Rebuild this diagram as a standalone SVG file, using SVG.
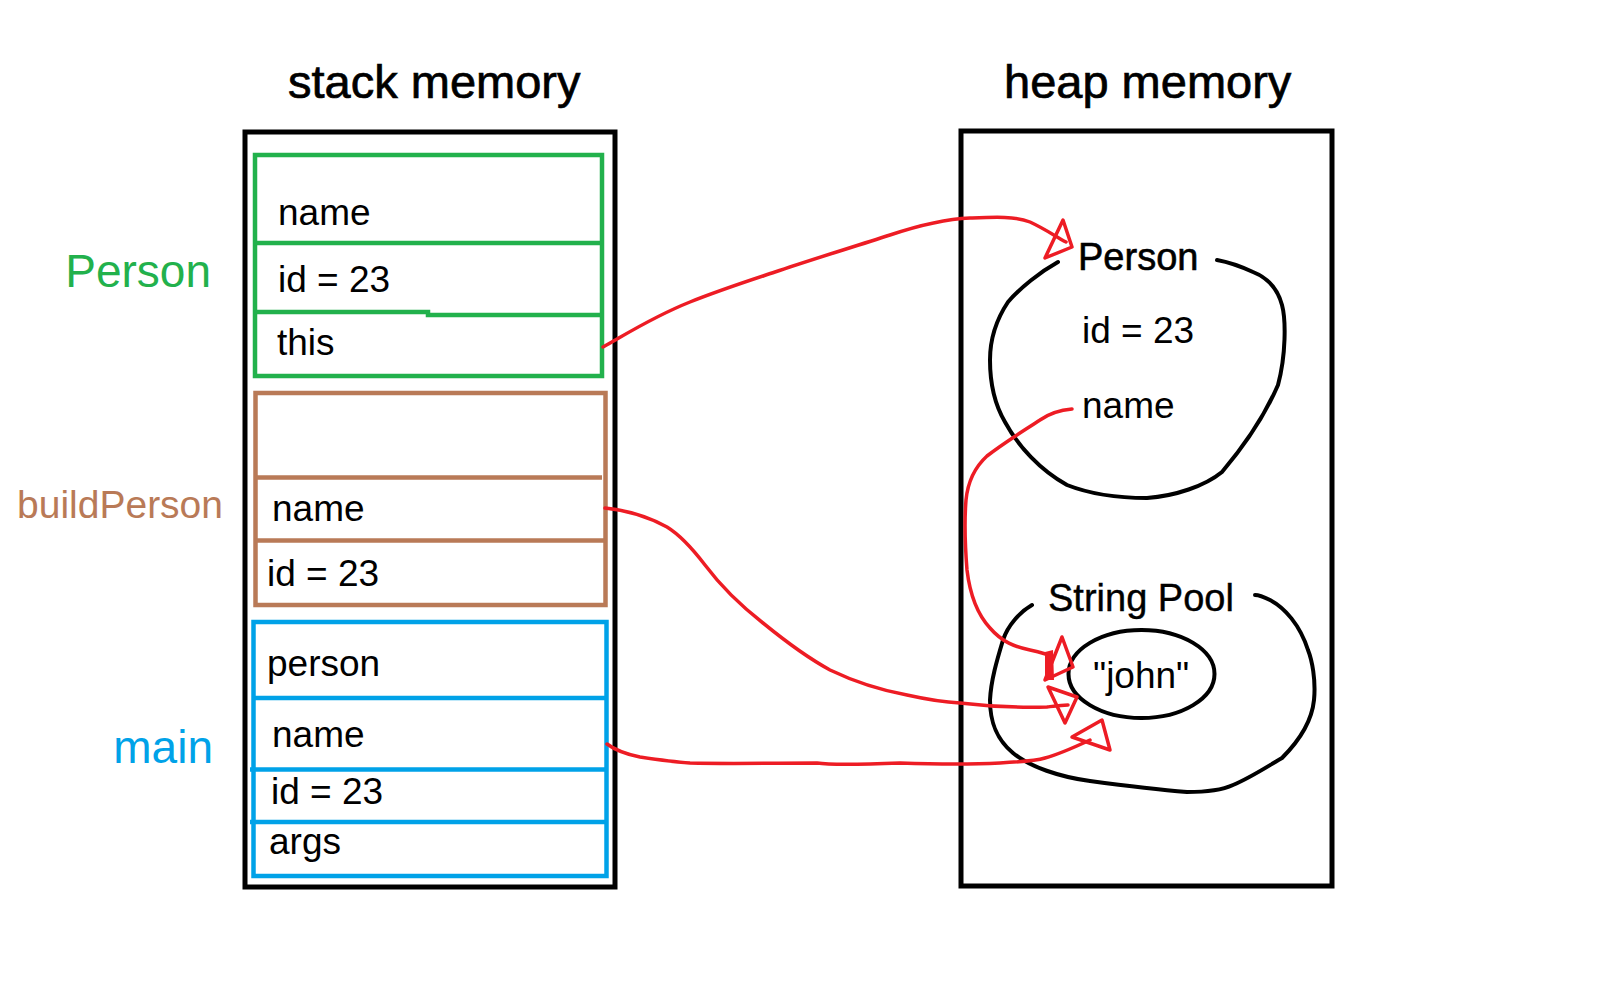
<svg xmlns="http://www.w3.org/2000/svg" width="1619" height="991" viewBox="0 0 1619 991">
<style>
text{font-family:"Liberation Sans",Arial,sans-serif;fill:#000}
.t{font-size:37px}
.title{font-size:47px;stroke:#000;stroke-width:0.7}
.lbl{font-size:46px}
.frame{fill:none;stroke:#000;stroke-width:5}
.g{fill:none;stroke:#22b14c;stroke-width:4.5}
.b{fill:none;stroke:#b97a57;stroke-width:4.5}
.c{fill:none;stroke:#00a2e8;stroke-width:4.5}
.blob{fill:none;stroke:#000;stroke-width:4;stroke-linejoin:round;stroke-linecap:round}
.red{fill:none;stroke:#ed1c24;stroke-width:3.5;stroke-linejoin:round;stroke-linecap:round}
.head{fill:none;stroke:#ed1c24;stroke-width:3.5;stroke-linejoin:round}
</style>
<rect width="1619" height="991" fill="#fff"/>
<g id="titles">
<text class="title" x="288" y="98">stack memory</text>
<text class="title" x="1004" y="98">heap memory</text>
</g>
<g id="stack">
<rect class="frame" x="245" y="132" width="370" height="755"/>
</g>
<g id="frame-person">
<text class="lbl" x="211" y="287" text-anchor="end" style="fill:#22b14c">Person</text>
<rect class="g" x="255" y="155" width="347" height="221"/>
<line class="g" x1="253" y1="243" x2="602" y2="243"/>
<polyline class="g" points="255,312 428,312 428,315 602,315"/>
<text class="t" x="278" y="225">name</text>
<text class="t" x="278" y="292">id = 23</text>
<text class="t" x="277" y="355">this</text>
</g>
<g id="frame-buildPerson">
<text class="lbl" x="223" y="518" text-anchor="end" style="fill:#b97a57;font-size:39px">buildPerson</text>
<rect class="b" x="255.5" y="393" width="350" height="212"/>
<line class="b" x1="255.5" y1="477.5" x2="602" y2="477.5"/>
<line class="b" x1="255.5" y1="540.5" x2="605.5" y2="540.5"/>
<text class="t" x="272" y="521">name</text>
<text class="t" x="267" y="586">id = 23</text>
</g>
<g id="frame-main">
<text class="lbl" x="213" y="763" text-anchor="end" style="fill:#00a2e8">main</text>
<rect class="c" x="253.5" y="622" width="353" height="254"/>
<line class="c" x1="253.5" y1="698" x2="606.5" y2="698"/>
<line class="c" x1="250" y1="769.5" x2="606.5" y2="769.5"/>
<line class="c" x1="250" y1="822" x2="606.5" y2="822"/>
<text class="t" x="267" y="676">person</text>
<text class="t" x="272" y="747">name</text>
<text class="t" x="271" y="804">id = 23</text>
<text class="t" x="269" y="854">args</text>
</g>
<g id="heap">
<rect class="frame" x="961" y="131" width="371" height="755"/>
</g>
<g id="person-object">
<path class="blob" d="M1058,262 C1040,272 1020,288 1008,302 C996,320 990,340 990,360 C990,385 995,405 1005,422 C1018,446 1040,470 1067,485 C1095,496 1125,498 1147,498 C1175,496 1205,486 1222,472 C1245,445 1265,415 1278,385 C1286,355 1286,320 1282,305 C1278,290 1268,278 1253,272 C1240,266 1228,262 1217,260"/>
<text class="t" x="1078" y="270" style="font-size:38px;stroke:#000;stroke-width:0.6">Person</text>
<text class="t" x="1082" y="343">id = 23</text>
<text class="t" x="1082" y="418">name</text>
</g>
<g id="string-pool">
<path class="blob" d="M1032,605 C1020,612 1008,625 1003,640 C997,660 991,680 990,700 C990,720 995,738 1013,753 C1030,767 1060,777 1090,781 C1120,785 1150,789 1187,792 C1205,792 1220,791 1233,785 C1250,778 1265,768 1282,758 C1300,740 1312,720 1314,700 C1316,680 1312,660 1308,650 C1300,625 1285,608 1270,600 C1262,596 1258,595 1255,595"/>
<text class="t" x="1048" y="611" style="font-size:38px;stroke:#000;stroke-width:0.4">String Pool</text>
<ellipse class="blob" cx="1141.5" cy="674" rx="73" ry="44"/>
<text class="t" x="1093" y="688" style="font-size:37px">"john"</text>
</g>
<g id="connectors">
<path class="red" d="M603,347 C620,338 650,318 690,302 C720,290 745,282 775,272 C810,260 850,248 890,235 C920,225 945,219 970,218 C995,217 1015,216 1030,222 C1045,229 1055,236 1066,242"/>
<polygon class="head" points="1063,220 1072,247 1045,258"/>
<path class="red" d="M1072,409 C1060,410 1050,413 1040,420 C1025,430 1005,442 987,456 C975,467 968,480 966,500 C964,525 965,545 967,570 C970,595 978,615 990,628 C1002,642 1015,647 1030,650 C1040,652 1045,654 1052,656"/>
<polygon class="head" points="1062,637 1073,667 1045,680"/>
<polygon points="1045,652 1053,650 1054,680 1045,680" fill="#ed1c24"/>
<path class="red" d="M605,508 C625,510 645,515 667,527 C680,535 692,548 705,565 C720,585 740,605 763,623 C785,641 808,658 830,670 C855,682 880,690 907,695 C925,699 940,702 960,703 C985,706 1010,708 1047,707 C1055,706 1062,705 1068,705"/>
<polygon class="head" points="1048,687 1077,697 1065,723"/>
<path class="red" d="M607,744 C615,750 625,754 640,757 C660,760 675,762 690,763 C730,764 780,763 817,763 C830,765 850,765 900,763 C930,764 960,765 1000,763 C1020,762 1035,761 1045,758 C1060,754 1075,747 1090,740"/>
<polygon class="head" points="1072,737 1102,720 1110,750"/>
</g>
</svg>
